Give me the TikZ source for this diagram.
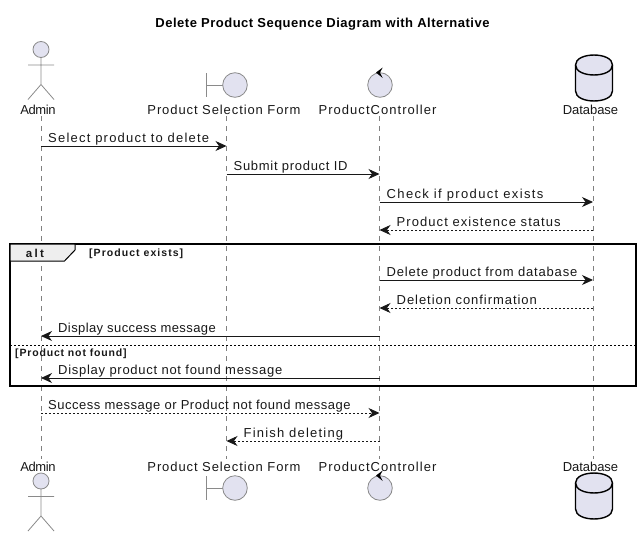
\documentclass[tikz,border=0pt]{standalone}
\usepackage{fontspec}
\setmainfont{Liberation Sans}
\usetikzlibrary{arrows.meta}

\definecolor{partfill}{HTML}{E2E2F0}
\definecolor{partline}{HTML}{8A8A8A}
\definecolor{inkline}{HTML}{181818}
\definecolor{tabfill}{HTML}{EEEEEE}

\begin{document}
\begin{tikzpicture}[x=1pt, y=-1pt,
            part/.style={inner sep=0pt, text height=10pt, text depth=3pt, font=\fontsize{13}{15}\selectfont, text=inkline},
            lifeline/.style={draw=inkline!55, dash pattern=on 5pt off 5pt},
            msg/.style={draw=inkline, line width=0.9pt, -{Stealth[length=11pt, width=10pt, inset=3.5pt]}},
            solidmsg/.style={msg},
            dotmsg/.style={msg, dash pattern=on 2pt off 2pt},
            msglabel/.style={anchor=base west, inner sep=0pt, font=\fontsize{13}{15}\selectfont, text=inkline},
            guard/.style={anchor=base west, inner sep=0pt, font=\bfseries\fontsize{10.5}{12}\selectfont, text=inkline},
            shapeline/.style={draw=partline, line width=0.8pt},
            pics/actorfig/.style={code={
                \draw[shapeline, fill=partfill] (0,0) circle (8pt);
                \draw[shapeline] (0,8) -- (0,35) (-13,15.5) -- (13,15.5) (-13,50) -- (0,35) -- (13,50);
            }},
            pics/boundaryfig/.style={code={
                \draw[shapeline] (-28.5,-12) -- (-28.5,12) (-28.5,0) -- (-12.3,0);
                \draw[shapeline, fill=partfill] (0,0) circle (12.3pt);
            }},
            pics/controlfig/.style={code={
                \draw[shapeline, fill=partfill] (0,0) circle (12.3pt);
                \fill[black] (-4,-12.5) -- (2.7,-17.5) -- (0,-12.5) -- (2.7,-7) -- cycle;
            }},
            pics/databasefig/.style={code={
                \draw[black, line width=1.4pt, fill=partfill] (-18.5,0) .. controls (-18.5,-13.3) and (18.5,-13.3) .. (18.5,0)
                    -- (18.5,26) .. controls (18.5,39.3) and (-18.5,39.3) .. (-18.5,26) -- cycle;
                \draw[black, line width=1.4pt] (-18.5,0) .. controls (-18.5,13.3) and (18.5,13.3) .. (18.5,0);
            }}]

        \useasboundingbox (0,0) rectangle (642,538);

        % Title
        \node[inner sep=0pt, font=\bfseries\fontsize{13}{15}\selectfont\addfontfeature{LetterSpace=3.9}, text=black] (title) at (322.5,24) {Delete Product Sequence Diagram with Alternative};

        % Participants
        \node[part] (adminT) at (38,110.5)   {\addfontfeature{LetterSpace=-2.8}Admin};
        \node[part] (formT)  at (224,110.5)  {\addfontfeature{LetterSpace=7}Product Selection Form};
        \node[part] (ctrlT)  at (377.5,110.5) {\addfontfeature{LetterSpace=8}ProductController};
        \node[part] (dbT)    at (590.5,110.5) {\addfontfeature{LetterSpace=-0.5}Database};
        \node[part] (adminB) at (38,467.5)   {\addfontfeature{LetterSpace=-2.8}Admin};
        \node[part] (formB)  at (224,467.5)  {\addfontfeature{LetterSpace=7}Product Selection Form};
        \node[part] (ctrlB)  at (377.5,467.5) {\addfontfeature{LetterSpace=8}ProductController};
        \node[part] (dbB)    at (590.5,467.5) {\addfontfeature{LetterSpace=-0.5}Database};

        % Figures
        \pic at (41,49.5)  {actorfig};
        \pic at (235,85)   {boundaryfig};
        \pic at (380,85)   {controlfig};
        \pic at (594,65)   {databasefig};
        \pic at (41,481)   {actorfig};
        \pic at (235,488)  {boundaryfig};
        \pic at (380,488)  {controlfig};
        \pic at (594,483)  {databasefig};

        % Lifelines
        \coordinate (admin) at (41,116);
        \coordinate (form)  at (226.5,116);
        \coordinate (ctrl)  at (379.5,116);
        \coordinate (db)    at (593,116);
        \foreach \who in {admin,form,ctrl,db}
            \draw[lifeline] (\who) -- (\who |- 0,459);

        % Alt frame
        \draw[black, line width=1.5pt] (10,244) rectangle (636,386);
        \draw[black, line width=1pt, fill=tabfill] (10,244) -- (75,244) -- (75,250) -- (64.5,261) -- (10,261) -- cycle;
        \node[inner sep=0pt, font=\bfseries\fontsize{11.5}{13}\selectfont\addfontfeature{LetterSpace=20}, text=inkline] (altlabel) at (35,253.5) {alt};
        \node[guard] (guard1) at (89,256.7) {\addfontfeature{LetterSpace=10}[Product exists]};
        \draw[black, dash pattern=on 2pt off 2pt] (10,345) -- (636,345);
        \node[guard] (guard2) at (15,356) {\addfontfeature{LetterSpace=8}[Product not found]};

        % Messages left to right
        \foreach \orig/\dest/\y/\kind/\ls/\txt in {
            admin/form/146/solidmsg/9.4/Select product to delete,
            form/ctrl/174/solidmsg/5.4/Submit product ID,
            ctrl/db/202/solidmsg/10.5/Check if product exists,
            ctrl/db/280/solidmsg/6.2/Delete product from database,
            admin/ctrl/413/dotmsg/4/Success message or Product not found message}{
            \coordinate (\orig\y) at (\orig |- 0,\y);
            \coordinate (\dest\y) at (\dest |- 0,\y);
            \draw[\kind] (\orig\y) -- (\dest\y);
            \node[msglabel, xshift=7pt, yshift=3.7pt] (label\y) at (\orig\y) {\addfontfeature{LetterSpace=\ls}\txt};
        }

        % Messages right to left
        \foreach \orig/\dest/\y/\kind/\ls/\txt in {
            db/ctrl/230/dotmsg/8.2/Product existence status,
            db/ctrl/308/dotmsg/7.3/Deletion confirmation,
            ctrl/admin/336/solidmsg/3.1/Display success message,
            ctrl/admin/378/solidmsg/5.6/Display product not found message,
            ctrl/form/441/dotmsg/9.3/Finish deleting}{
            \coordinate (\orig\y) at (\orig |- 0,\y);
            \coordinate (\dest\y) at (\dest |- 0,\y);
            \draw[\kind] (\orig\y) -- (\dest\y);
            \node[msglabel, xshift=17pt, yshift=3.7pt] (label\y) at (\dest\y) {\addfontfeature{LetterSpace=\ls}\txt};
        }
    \end{tikzpicture}
\end{document}
